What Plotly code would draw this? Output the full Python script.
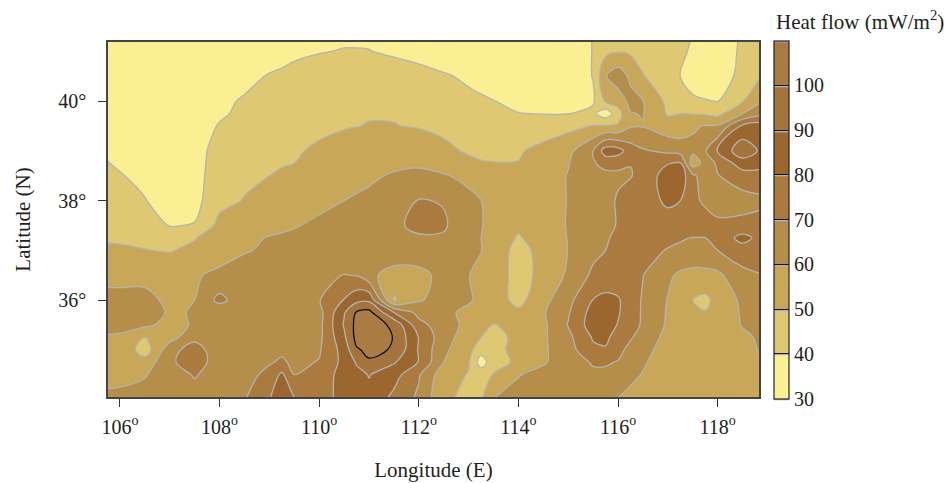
import plotly.graph_objects as go

lon = [105.5, 106, 106.5, 107, 107.5, 108, 108.5, 109, 109.25, 109.5, 110, 110.5, 110.75, 111, 111.5, 112, 112.5, 113,
       113.25, 113.5, 114, 114.5, 115, 115.5, 115.75, 116, 116.25, 116.5, 117, 117.25, 117.5, 117.75, 118, 118.5, 119]
lat = [34, 34.5, 34.75, 35, 35.25, 35.5, 35.75, 36, 36.5, 37, 37.25, 37.5, 38, 38.5, 38.75, 39, 39.5, 39.75, 40, 40.5, 41, 41.5]

z_3400 = [62,62,63,64,65,66,69.5,79.5,90,81,72,86,86.5,87,77,68,52,47,49,60.5,64,65,64,63,61.5,59.8,57.5,56,55,55,55,55,56,56,58]
z_3450 = [57,58,59.5,64,71,64,66,73,82,70,74,84,87,90.5,84,71,54,49.5,46,50.5,59.5,63,63,68,68,66,62,59.5,55,54.5,55,55,56,56,59]
z_3475 = [56,55,54,68,76,64,65.5,69,71.5,68,70.5,83,91,99,91,79.5,60,51,35,46,52,59,65,71,71,69.5,65,61,55.5,54.5,54.5,55,56,57,60.5]
z_3500 = [55,58,45,66,75,63,65,66,68,67,69,84,99,102,99.3,79,62,53,44,47,53,58.5,66,78,79,73,67,63,56,54,54,54.5,56,57,62]
z_3525 = [59.5,59,50,56,67,64,65,65.5,66,66.5,67.5,88,103,104.5,99.7,79.5,64,55,50,46,53,58.5,67.5,81,82,76,71,66,57,54,53,53.5,55,58.5,62]
z_3550 = [63,62,62,57,61,63,64,65,65.5,66,67,91,103,105,98,73,65,57,55,49.5,53,58,70.5,85,84,79.5,73,69,58.5,54,52,52.5,54,60.5,63]
z_3575 = [63,63,64,59,60.5,62,63.5,64.5,65,66,66.5,89,101,103,80,67,62,58,56,54,52,59,69,84,86,81,74,69,59,53.5,52,50.4,54,61,64]
z_3600 = [62,62,62,58.5,60,73,63,64,65,66,69.5,80.5,87,88,49,59,64,61,58,55,47,57,67,80.3,83,81,75,69,59.5,54,50,48,53,62,66]
z_3650 = [58,58,58,56,59,62,63,64,64.5,65,66,70.3,69.5,63,55,56,64,60.2,58,56,46,53,61.5,72,73,74,72,70.2,62,58,56.5,56.5,58,67,70.5]
z_3700 = [51,51,50.2,49.5,52,56,59.5,61,62,62.5,64,65,66,67,68.5,68,68,63,60.2,57,46,54,60.2,67.5,70,71,72,73,69.5,69,68,69,70,76,73]
z_3725 = [49.5,49,48.5,47,49.5,55,58,60.5,61,61.5,63,64.5,65.5,66.5,68.5,69,69,64,60,57,49,55,60.3,66,69.5,71,73,74,72,70.5,69.8,70,74,83,75]
z_3750 = [48,47,46,39.5,40.5,53,54,57,58.5,59.5,61.5,64,65,66,68.5,72,71,64.5,60.5,57,52,56,60.5,65,68,70.5,73,74,75,75.5,76,74,71.5,73,75]
z_3800 = [45,44,40.7,33,37,47,50.5,54,55.5,57,58,60,61,62,65,70.5,69.5,63,60,57,53,54,60.5,64,67,71,74.5,75,82,80,72,68.5,67,66,68]
z_3850 = [46,41,36,33,36,46,48,50,51,52,54,56.5,57.5,58.5,61,62.5,61,57,54,52.5,52,54.5,60.5,65,67.5,68.5,69.5,73,85,86,72,65,69.5,75.5,77]
z_3875 = [43,38,34,32,35.5,45.5,47.5,49,49.5,50,53,55,56,57,58,58.5,55,52,50.5,50.2,50.3,53.5,59.5,69,73,72,70.2,72,79.5,81,55,63,72,85,82]
z_3900 = [41,36,32,31,35,45,47,48,48.5,49,51.5,53,54,54.5,55.5,55,52,49,48.5,48.5,49,53,57,70,85,84,75,71,68,66,62,69,80.5,97,85]
z_3950 = [34,32,31,31,33,41,45,47,47.5,48,48,49.5,49.9,50.2,50.2,49.5,48,45.7,45,44.5,43.7,44.6,47.4,50.5,51,51,59,59.5,54,54,59,60.5,61,82,84]
z_3975 = [32,31,31,31,32,38,43,45,46,47,48,49.5,49.6,49.7,49.5,48.5,46.5,44,43,42,40.2,39.8,39.8,42,34,46,59.5,60.5,49,50,49.5,49,47,60,69]
z_4000 = [31,31,31,31,32,37,41.5,43.5,44.5,45.5,48,49,49.2,49.5,49,47.5,45,42,41,40.2,38,36,36,39,51,54,63,60.3,47.5,43,41.5,40.7,39.7,49.5,61]
z_4050 = [31,31,31,31,31,33,36,41,42,43,45,46,46,46,45,43,41,38.5,37.5,36,34,33,35,40.3,59.5,66,58,50.5,45,39.8,36,33,33,44,52]
z_4100 = [31,31,31,31,31,31,31.5,33,36,38,39.5,40.5,40.5,40.3,38.5,37,34.5,33,32.5,32,32,33,35,40.3,47.5,49.5,48.5,46,44,42,38.5,36,35,41.5,44]
z_4150 = [31,31,31,31,31,31,32,33,34,35,36,37,37,37,35,34,33,32,32,32,32,32,34,40.3,44,45,44,43,42,42,40.5,37,35,41,43]

heat = [z_3400, z_3450, z_3475, z_3500, z_3525, z_3550, z_3575, z_3600, z_3650, z_3700, z_3725,
        z_3750, z_3800, z_3850, z_3875, z_3900, z_3950, z_3975, z_4000, z_4050, z_4100, z_4150]

band_colors = ["#FBEF93", "#DEC872", "#C8A759", "#B58E49",
               "#AA7A3E", "#9C672F", "#A4743A", "#AA7C44"]
lon_ticks = [106, 108, 110, 112, 114, 116, 118]
lat_ticks = [36, 38, 40]
bar_ticks = [30, 40, 50, 60, 70, 80, 90, 100]

scale = []
n = len(band_colors)
for i, c in enumerate(band_colors):
    scale += [[i / n, c], [(i + 1) / n, c]]

FONT = "Liberation Serif"
INK = "#231F20"
SIZE = 20

fig = go.Figure()
fig.add_trace(go.Contour(
    x=lon, y=lat, z=heat, zmin=30, zmax=110, colorscale=scale,
    autocontour=False,
    contours=dict(start=30, end=110, size=10, coloring="fill", showlines=True),
    line=dict(color="#B4B4B4", width=1.3, smoothing=1),
    colorbar=dict(
        thickness=15, len=1.008, lenmode="fraction",
        x=1.023, xanchor="left", xpad=0,
        y=0.5, yanchor="middle", ypad=0,
        outlinecolor="#222", outlinewidth=1.2,
        tickmode="array", tickvals=bar_ticks, ticks="inside", ticklen=15,
        tickcolor="#111", tickwidth=1.2, tickprefix="\u00a0\u00a0",
        tickfont=dict(family=FONT, size=SIZE, color=INK),
    ),
))
fig.add_trace(go.Contour(
    x=lon, y=lat, z=heat, showscale=False, autocontour=False,
    contours=dict(start=100, end=105, size=10, coloring="none"),
    line=dict(color="#000000", width=1.3, smoothing=1),
    hoverinfo="skip",
))

fig.update_xaxes(
    range=[105.76, 118.83], tickmode="array", tickvals=lon_ticks,
    ticktext=[f"{v}<sup>o</sup>" for v in lon_ticks],
    ticks="outside", ticklen=8, tickcolor="#333", tickwidth=1.2, ticklabelstandoff=3,
    showline=True, linecolor="#444", linewidth=1.5, mirror=True, showgrid=False, zeroline=False,
    tickfont=dict(family=FONT, size=SIZE, color=INK), automargin=False,
    title=dict(text="Longitude (E)", font=dict(family=FONT, size=21, color=INK), standoff=26),
)
fig.update_yaxes(
    range=[34.05, 41.19], tickmode="array", tickvals=lat_ticks,
    ticktext=[f"{v}°" for v in lat_ticks],
    ticks="outside", ticklen=8, tickcolor="#333", tickwidth=1.2, ticklabelstandoff=8,
    showline=True, linecolor="#444", linewidth=1.5, mirror=True, showgrid=False, zeroline=False,
    tickfont=dict(family=FONT, size=SIZE, color=INK), automargin=False,
    title=dict(text="Latitude (N)", font=dict(family=FONT, size=21, color=INK), standoff=22),
)
fig.add_annotation(
    text="Heat flow (mW/m<sup>2</sup>)", xref="paper", yref="paper",
    x=1.023, xanchor="left", y=1, yanchor="bottom", yshift=6,
    showarrow=False, font=dict(family=FONT, size=21, color=INK),
)
fig.update_layout(
    width=949, height=483, margin=dict(l=108, r=190, t=42, b=86),
    paper_bgcolor="white", plot_bgcolor="white", showlegend=False,
)
fig.write_html("out.html", config={"displayModeBar": False},
               post_script="document.body.style.margin='0';")
